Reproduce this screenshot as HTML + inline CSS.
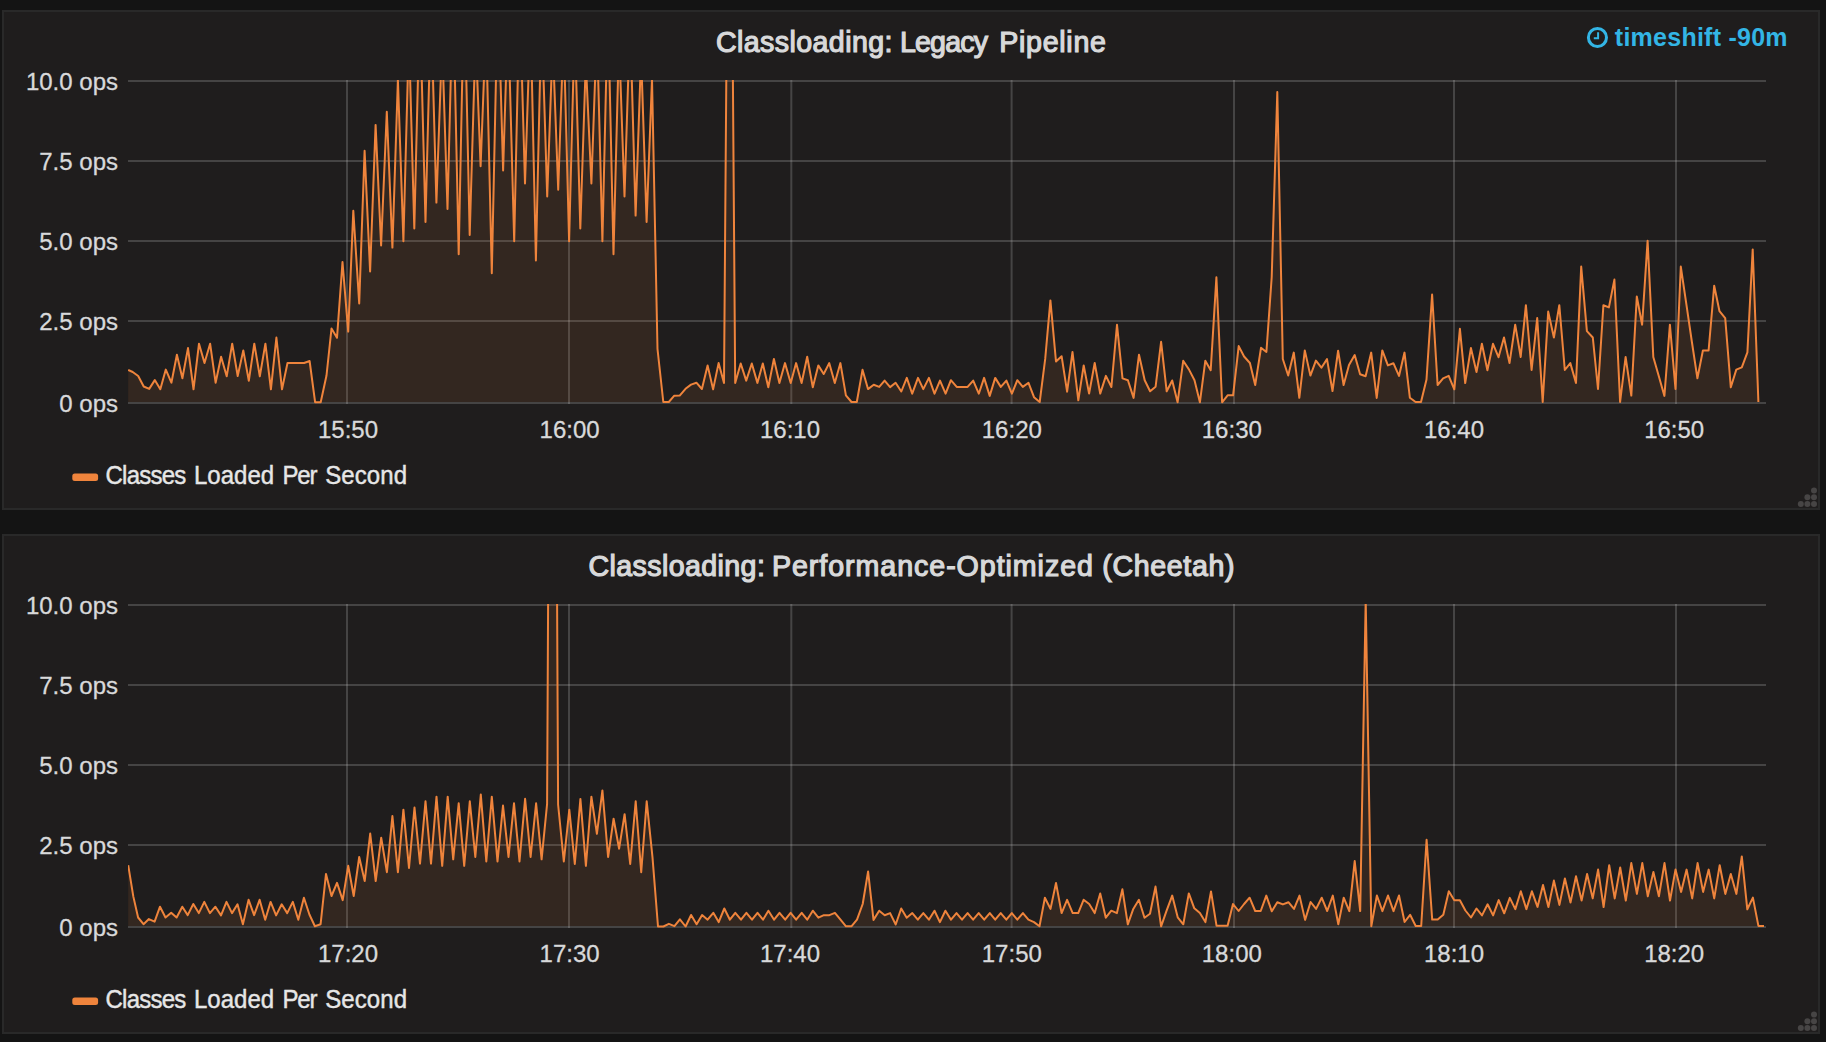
<!DOCTYPE html>
<html lang="en"><head><meta charset="utf-8"><title>Classloading dashboard</title>
<style>
html,body{margin:0;padding:0;background:#141414;}
body{width:1826px;height:1042px;overflow:hidden;position:relative;font-family:"Liberation Sans",sans-serif;color:#d8d9da;}
.panel{position:absolute;left:2px;width:1818px;height:500px;box-sizing:border-box;border:2px solid #292929;background:#1f1d1d;}
.plot{position:absolute;left:0;top:0;}
.title{position:absolute;font-size:28.6px;line-height:56px;height:56px;font-weight:normal;white-space:nowrap;-webkit-text-stroke:1.2px #d8d9da;}
.yl{-webkit-text-stroke:0.3px #d8d9da;position:absolute;left:0;width:118px;text-align:right;font-size:24px;line-height:28px;height:28px;white-space:nowrap;}
.xl{-webkit-text-stroke:0.3px #d8d9da;position:absolute;width:80px;text-align:center;font-size:24px;line-height:28px;height:28px;white-space:nowrap;}
.lg{transform:scaleY(1.055);transform-origin:0 21.2px;color:#e6e6e6;-webkit-text-stroke:0.4px #e6e6e6;position:absolute;font-size:24px;line-height:28px;height:28px;white-space:nowrap;}
.ts{position:absolute;right:38.2px;top:22px;font-size:25px;letter-spacing:0.25px;line-height:30px;font-weight:bold;color:#33b5e5;white-space:nowrap;}
</style></head>
<body>
<div class="panel" style="top:10px"></div>
<div class="title" style="top:13.5px;left:716px;letter-spacing:0.4px">Classloading:</div>
<div class="title" style="top:13.5px;left:899.9px;letter-spacing:-0.8px">Legacy</div>
<div class="title" style="top:13.5px;left:999.2px;letter-spacing:0.72px">Pipeline</div>
<div class="yl" style="top:67.7px">10.0 ops</div>
<div class="yl" style="top:147.7px">7.5 ops</div>
<div class="yl" style="top:227.7px">5.0 ops</div>
<div class="yl" style="top:307.7px">2.5 ops</div>
<div class="yl" style="top:389.7px">0 ops</div>
<div class="xl" style="left:308.0px;top:416px">15:50</div>
<div class="xl" style="left:529.6px;top:416px">16:00</div>
<div class="xl" style="left:750.0px;top:416px">16:10</div>
<div class="xl" style="left:971.8px;top:416px">16:20</div>
<div class="xl" style="left:1191.8px;top:416px">16:30</div>
<div class="xl" style="left:1414.0px;top:416px">16:40</div>
<div class="xl" style="left:1634.2px;top:416px">16:50</div>
<div class="lg" style="top:462.3px;left:105.5px;letter-spacing:-0.76px">Classes</div>
<div class="lg" style="top:462.3px;left:194.0px;letter-spacing:0.02px">Loaded</div>
<div class="lg" style="top:462.3px;left:282.5px;letter-spacing:-1.16px">Per</div>
<div class="lg" style="top:462.3px;left:325.2px;letter-spacing:0.09px">Second</div>
<div class="ts">timeshift -90m</div>
<div class="panel" style="top:534px"></div>
<div class="title" style="top:537.5px;left:588.4px;letter-spacing:0.4px">Classloading:</div>
<div class="title" style="top:537.5px;left:772px;letter-spacing:0.95px">Performance-Optimized</div>
<div class="title" style="top:537.5px;left:1102.3px;letter-spacing:0.63px">(Cheetah)</div>
<div class="yl" style="top:591.7px">10.0 ops</div>
<div class="yl" style="top:671.7px">7.5 ops</div>
<div class="yl" style="top:751.7px">5.0 ops</div>
<div class="yl" style="top:831.7px">2.5 ops</div>
<div class="yl" style="top:913.7px">0 ops</div>
<div class="xl" style="left:308.0px;top:940px">17:20</div>
<div class="xl" style="left:529.6px;top:940px">17:30</div>
<div class="xl" style="left:750.0px;top:940px">17:40</div>
<div class="xl" style="left:971.8px;top:940px">17:50</div>
<div class="xl" style="left:1191.8px;top:940px">18:00</div>
<div class="xl" style="left:1414.0px;top:940px">18:10</div>
<div class="xl" style="left:1634.2px;top:940px">18:20</div>
<div class="lg" style="top:986.3px;left:105.5px;letter-spacing:-0.76px">Classes</div>
<div class="lg" style="top:986.3px;left:194.0px;letter-spacing:0.02px">Loaded</div>
<div class="lg" style="top:986.3px;left:282.5px;letter-spacing:-1.16px">Per</div>
<div class="lg" style="top:986.3px;left:325.2px;letter-spacing:0.09px">Second</div>

<svg class="plot" width="1826" height="1042" viewBox="0 0 1826 1042"><defs><clipPath id="c1"><rect x="128" y="80" width="1638" height="324"/></clipPath><clipPath id="c2"><rect x="128" y="604" width="1638" height="324"/></clipPath></defs><g fill="#c8c8c8" fill-opacity="0.23"><rect x="128" y="80" width="1638" height="2"/><rect x="128" y="160" width="1638" height="2"/><rect x="128" y="240" width="1638" height="2"/><rect x="128" y="320" width="1638" height="2"/><rect x="128" y="402" width="1638" height="2"/><rect x="346" y="80" width="2" height="324"/><rect x="568" y="80" width="2" height="324"/><rect x="790.3" y="80" width="2" height="324"/><rect x="1010.6" y="80" width="2" height="324"/><rect x="1233" y="80" width="2" height="324"/><rect x="1453" y="80" width="2" height="324"/><rect x="1675" y="80" width="2" height="324"/></g><g clip-path="url(#c1)"><path d="M128.2,369.9 L132.7,372.0 L138.2,376.0 L143.7,386.5 L149.2,388.9 L154.8,380.1 L160.3,389.2 L165.8,369.6 L171.4,382.7 L176.9,354.8 L182.4,378.2 L188.0,348.1 L193.5,389.3 L199.0,343.7 L204.5,363.0 L210.1,343.7 L215.6,382.7 L221.1,356.7 L226.7,376.3 L232.2,343.7 L237.7,376.0 L243.3,350.4 L248.8,380.8 L254.3,343.7 L259.8,376.3 L265.4,343.7 L270.9,389.3 L276.4,337.5 L282.0,389.3 L287.5,363.0 L293.0,363.0 L298.6,363.0 L304.1,363.0 L309.6,361.0 L315.1,402.2 L320.7,402.2 L326.5,375.5 L331.5,328.5 L337.0,337.8 L342.5,262.0 L348.2,331.6 L353.3,210.8 L359.2,303.4 L364.6,150.7 L370.1,271.5 L375.6,124.9 L381.1,245.5 L386.8,111.8 L392.4,247.6 L397.9,79.5 L403.4,241.3 L408.9,35.0 L414.3,228.4 L419.8,3.0 L425.5,222.0 L431.0,6.0 L436.4,202.6 L442.1,41.0 L447.5,209.0 L453.0,-11.0 L458.7,254.2 L464.2,-19.0 L469.7,234.9 L475.6,36.0 L480.6,166.2 L486.0,25.0 L491.8,273.2 L497.9,-12.0 L503.1,170.5 L508.0,14.0 L514.2,241.3 L519.6,-4.8 L525.0,183.5 L530.5,15.5 L535.9,260.6 L541.5,12.6 L547.2,196.4 L552.7,42.3 L558.2,189.7 L563.6,31.0 L569.1,241.3 L574.7,24.0 L580.3,228.4 L585.8,62.0 L591.4,183.5 L596.9,28.2 L602.4,241.3 L607.9,3.8 L613.5,254.2 L619.0,39.3 L624.5,196.4 L630.1,18.5 L635.6,215.6 L641.1,54.3 L646.6,222.0 L652.0,79.0 L657.5,349.0 L663.3,402.0 L668.8,402.0 L674.3,395.7 L679.7,395.6 L685.5,388.8 L691.0,384.6 L696.4,382.7 L701.9,389.0 L707.6,365.4 L713.1,389.4 L718.6,363.1 L724.0,383.0 L729.6,-356.0 L735.2,383.0 L740.7,363.5 L746.2,380.6 L751.8,363.5 L757.4,382.9 L762.8,363.5 L768.3,387.3 L773.9,358.9 L779.4,383.0 L785.0,363.1 L790.7,383.0 L796.1,363.1 L801.6,383.0 L807.2,356.8 L812.8,387.3 L818.3,365.4 L823.7,374.0 L829.2,363.1 L834.8,383.0 L840.4,363.1 L845.9,395.3 L851.5,402.0 L856.8,402.0 L862.5,369.8 L868.0,389.1 L873.7,384.8 L879.2,386.9 L884.6,380.6 L890.1,387.1 L895.6,382.8 L901.3,391.5 L906.8,377.9 L912.2,393.7 L918.0,377.9 L923.3,389.1 L928.9,377.9 L934.5,393.7 L940.0,380.6 L945.6,393.7 L950.9,380.2 L956.7,386.9 L962.1,387.1 L967.6,386.9 L973.2,380.6 L978.8,393.7 L984.1,377.9 L989.7,395.9 L995.2,377.9 L1000.8,386.9 L1006.4,380.6 L1011.9,393.7 L1017.3,380.2 L1022.8,386.9 L1028.5,382.8 L1034.0,397.2 L1039.7,402.0 L1045.2,358.9 L1050.4,300.4 L1056.0,361.5 L1061.6,356.2 L1067.1,391.7 L1072.5,352.0 L1078.3,400.3 L1083.7,365.4 L1089.1,393.6 L1094.7,363.0 L1100.2,393.6 L1105.9,375.9 L1111.4,387.0 L1117.0,324.8 L1122.5,378.4 L1127.9,380.2 L1133.6,397.9 L1139.0,354.7 L1144.7,380.2 L1150.1,391.3 L1155.6,386.7 L1161.1,341.8 L1166.7,391.3 L1172.2,380.5 L1177.6,402.3 L1183.2,360.8 L1188.9,369.4 L1194.5,380.2 L1199.9,402.3 L1205.3,360.8 L1210.7,370.2 L1216.4,277.3 L1222.1,402.3 L1227.6,395.3 L1233.1,395.3 L1238.7,346.1 L1244.1,356.5 L1249.9,363.0 L1255.2,385.0 L1261.0,347.8 L1266.4,352.0 L1271.7,277.2 L1277.3,92.1 L1282.8,359.0 L1288.2,375.5 L1293.8,352.6 L1299.3,397.8 L1304.8,350.4 L1310.4,375.6 L1315.9,360.6 L1321.4,367.7 L1327.0,359.1 L1332.5,391.0 L1338.1,350.7 L1343.6,385.0 L1349.0,365.1 L1354.7,355.0 L1360.1,374.2 L1365.6,376.2 L1371.2,352.6 L1376.7,397.9 L1382.3,350.4 L1387.9,365.4 L1393.4,363.2 L1399.0,375.9 L1404.5,352.6 L1409.9,397.8 L1415.6,402.0 L1421.0,402.0 L1426.5,379.5 L1432.1,294.6 L1437.6,385.0 L1443.1,378.4 L1448.7,375.9 L1454.3,389.3 L1459.9,328.8 L1465.2,383.1 L1470.9,348.1 L1476.5,372.0 L1481.9,343.8 L1487.4,370.2 L1493.0,343.8 L1498.5,357.2 L1504.0,337.5 L1509.5,363.1 L1515.2,324.7 L1520.7,357.0 L1525.9,305.2 L1531.6,370.0 L1537.2,318.1 L1542.7,402.0 L1548.2,311.6 L1553.9,337.5 L1559.3,305.2 L1564.8,370.0 L1570.3,363.1 L1576.0,383.0 L1581.2,266.6 L1586.9,331.1 L1592.8,337.5 L1598.0,389.0 L1603.4,305.2 L1608.9,307.4 L1614.4,279.6 L1620.1,402.0 L1625.6,357.0 L1631.3,395.6 L1636.8,296.5 L1642.1,324.7 L1647.6,240.7 L1653.3,357.0 L1658.9,376.6 L1664.4,395.9 L1669.9,324.7 L1675.5,389.0 L1680.8,266.6 L1686.5,305.2 L1691.9,342.0 L1697.4,378.3 L1702.9,350.5 L1708.6,350.5 L1714.2,285.7 L1719.5,311.2 L1725.2,318.1 L1730.8,387.3 L1736.3,369.6 L1741.8,367.4 L1747.4,352.4 L1752.7,249.4 L1758.4,402.0 L1758.4,402 L128.2,402 Z" fill="#ef843c" fill-opacity="0.1" stroke="none"/><path d="M128.2,369.9 L132.7,372.0 L138.2,376.0 L143.7,386.5 L149.2,388.9 L154.8,380.1 L160.3,389.2 L165.8,369.6 L171.4,382.7 L176.9,354.8 L182.4,378.2 L188.0,348.1 L193.5,389.3 L199.0,343.7 L204.5,363.0 L210.1,343.7 L215.6,382.7 L221.1,356.7 L226.7,376.3 L232.2,343.7 L237.7,376.0 L243.3,350.4 L248.8,380.8 L254.3,343.7 L259.8,376.3 L265.4,343.7 L270.9,389.3 L276.4,337.5 L282.0,389.3 L287.5,363.0 L293.0,363.0 L298.6,363.0 L304.1,363.0 L309.6,361.0 L315.1,402.2 L320.7,402.2 L326.5,375.5 L331.5,328.5 L337.0,337.8 L342.5,262.0 L348.2,331.6 L353.3,210.8 L359.2,303.4 L364.6,150.7 L370.1,271.5 L375.6,124.9 L381.1,245.5 L386.8,111.8 L392.4,247.6 L397.9,79.5 L403.4,241.3 L408.9,35.0 L414.3,228.4 L419.8,3.0 L425.5,222.0 L431.0,6.0 L436.4,202.6 L442.1,41.0 L447.5,209.0 L453.0,-11.0 L458.7,254.2 L464.2,-19.0 L469.7,234.9 L475.6,36.0 L480.6,166.2 L486.0,25.0 L491.8,273.2 L497.9,-12.0 L503.1,170.5 L508.0,14.0 L514.2,241.3 L519.6,-4.8 L525.0,183.5 L530.5,15.5 L535.9,260.6 L541.5,12.6 L547.2,196.4 L552.7,42.3 L558.2,189.7 L563.6,31.0 L569.1,241.3 L574.7,24.0 L580.3,228.4 L585.8,62.0 L591.4,183.5 L596.9,28.2 L602.4,241.3 L607.9,3.8 L613.5,254.2 L619.0,39.3 L624.5,196.4 L630.1,18.5 L635.6,215.6 L641.1,54.3 L646.6,222.0 L652.0,79.0 L657.5,349.0 L663.3,402.0 L668.8,402.0 L674.3,395.7 L679.7,395.6 L685.5,388.8 L691.0,384.6 L696.4,382.7 L701.9,389.0 L707.6,365.4 L713.1,389.4 L718.6,363.1 L724.0,383.0 L729.6,-356.0 L735.2,383.0 L740.7,363.5 L746.2,380.6 L751.8,363.5 L757.4,382.9 L762.8,363.5 L768.3,387.3 L773.9,358.9 L779.4,383.0 L785.0,363.1 L790.7,383.0 L796.1,363.1 L801.6,383.0 L807.2,356.8 L812.8,387.3 L818.3,365.4 L823.7,374.0 L829.2,363.1 L834.8,383.0 L840.4,363.1 L845.9,395.3 L851.5,402.0 L856.8,402.0 L862.5,369.8 L868.0,389.1 L873.7,384.8 L879.2,386.9 L884.6,380.6 L890.1,387.1 L895.6,382.8 L901.3,391.5 L906.8,377.9 L912.2,393.7 L918.0,377.9 L923.3,389.1 L928.9,377.9 L934.5,393.7 L940.0,380.6 L945.6,393.7 L950.9,380.2 L956.7,386.9 L962.1,387.1 L967.6,386.9 L973.2,380.6 L978.8,393.7 L984.1,377.9 L989.7,395.9 L995.2,377.9 L1000.8,386.9 L1006.4,380.6 L1011.9,393.7 L1017.3,380.2 L1022.8,386.9 L1028.5,382.8 L1034.0,397.2 L1039.7,402.0 L1045.2,358.9 L1050.4,300.4 L1056.0,361.5 L1061.6,356.2 L1067.1,391.7 L1072.5,352.0 L1078.3,400.3 L1083.7,365.4 L1089.1,393.6 L1094.7,363.0 L1100.2,393.6 L1105.9,375.9 L1111.4,387.0 L1117.0,324.8 L1122.5,378.4 L1127.9,380.2 L1133.6,397.9 L1139.0,354.7 L1144.7,380.2 L1150.1,391.3 L1155.6,386.7 L1161.1,341.8 L1166.7,391.3 L1172.2,380.5 L1177.6,402.3 L1183.2,360.8 L1188.9,369.4 L1194.5,380.2 L1199.9,402.3 L1205.3,360.8 L1210.7,370.2 L1216.4,277.3 L1222.1,402.3 L1227.6,395.3 L1233.1,395.3 L1238.7,346.1 L1244.1,356.5 L1249.9,363.0 L1255.2,385.0 L1261.0,347.8 L1266.4,352.0 L1271.7,277.2 L1277.3,92.1 L1282.8,359.0 L1288.2,375.5 L1293.8,352.6 L1299.3,397.8 L1304.8,350.4 L1310.4,375.6 L1315.9,360.6 L1321.4,367.7 L1327.0,359.1 L1332.5,391.0 L1338.1,350.7 L1343.6,385.0 L1349.0,365.1 L1354.7,355.0 L1360.1,374.2 L1365.6,376.2 L1371.2,352.6 L1376.7,397.9 L1382.3,350.4 L1387.9,365.4 L1393.4,363.2 L1399.0,375.9 L1404.5,352.6 L1409.9,397.8 L1415.6,402.0 L1421.0,402.0 L1426.5,379.5 L1432.1,294.6 L1437.6,385.0 L1443.1,378.4 L1448.7,375.9 L1454.3,389.3 L1459.9,328.8 L1465.2,383.1 L1470.9,348.1 L1476.5,372.0 L1481.9,343.8 L1487.4,370.2 L1493.0,343.8 L1498.5,357.2 L1504.0,337.5 L1509.5,363.1 L1515.2,324.7 L1520.7,357.0 L1525.9,305.2 L1531.6,370.0 L1537.2,318.1 L1542.7,402.0 L1548.2,311.6 L1553.9,337.5 L1559.3,305.2 L1564.8,370.0 L1570.3,363.1 L1576.0,383.0 L1581.2,266.6 L1586.9,331.1 L1592.8,337.5 L1598.0,389.0 L1603.4,305.2 L1608.9,307.4 L1614.4,279.6 L1620.1,402.0 L1625.6,357.0 L1631.3,395.6 L1636.8,296.5 L1642.1,324.7 L1647.6,240.7 L1653.3,357.0 L1658.9,376.6 L1664.4,395.9 L1669.9,324.7 L1675.5,389.0 L1680.8,266.6 L1686.5,305.2 L1691.9,342.0 L1697.4,378.3 L1702.9,350.5 L1708.6,350.5 L1714.2,285.7 L1719.5,311.2 L1725.2,318.1 L1730.8,387.3 L1736.3,369.6 L1741.8,367.4 L1747.4,352.4 L1752.7,249.4 L1758.4,402.0" fill="none" stroke="#ef843c" stroke-width="2" stroke-linejoin="round" stroke-linecap="butt"/></g><g fill="#474545"><circle cx="1814" cy="490.5" r="3"/><circle cx="1807.4" cy="497.2" r="3"/><circle cx="1814" cy="497.2" r="3"/><circle cx="1800.8" cy="503.9" r="3"/><circle cx="1807.4" cy="503.9" r="3"/><circle cx="1814" cy="503.9" r="3"/></g><g fill="#c8c8c8" fill-opacity="0.23"><rect x="128" y="604" width="1638" height="2"/><rect x="128" y="684" width="1638" height="2"/><rect x="128" y="764" width="1638" height="2"/><rect x="128" y="844" width="1638" height="2"/><rect x="128" y="926" width="1638" height="2"/><rect x="346" y="604" width="2" height="324"/><rect x="568" y="604" width="2" height="324"/><rect x="790.3" y="604" width="2" height="324"/><rect x="1010.6" y="604" width="2" height="324"/><rect x="1233" y="604" width="2" height="324"/><rect x="1453" y="604" width="2" height="324"/><rect x="1675" y="604" width="2" height="324"/></g><g clip-path="url(#c2)"><path d="M128.2,865.1 L133.3,896.4 L138.1,917.5 L143.5,924.2 L148.9,919.1 L154.6,921.7 L160.0,906.7 L165.5,917.5 L171.2,912.7 L176.6,917.5 L182.3,906.7 L187.7,915.1 L193.3,904.0 L198.8,913.1 L204.3,901.9 L209.9,913.1 L215.4,906.7 L221.0,915.4 L226.5,901.9 L232.0,913.1 L237.5,904.3 L242.9,924.2 L248.6,899.8 L254.1,915.1 L259.6,899.8 L265.2,919.7 L270.6,901.9 L276.1,915.4 L281.7,904.3 L287.2,913.1 L292.8,901.9 L298.3,919.7 L303.9,897.7 L309.4,914.5 L314.9,926.2 L320.6,924.2 L326.0,873.9 L331.5,896.0 L337.0,882.8 L342.7,900.1 L348.2,865.8 L353.7,896.0 L359.2,857.0 L364.7,881.1 L370.2,833.5 L375.7,881.1 L381.2,837.7 L386.9,872.2 L392.4,816.1 L397.9,872.2 L403.4,809.7 L409.0,868.0 L414.5,807.5 L420.0,863.6 L425.5,801.3 L431.0,863.6 L436.5,796.7 L442.2,865.8 L447.7,796.7 L453.2,859.3 L458.7,803.3 L464.2,865.8 L469.8,801.3 L475.3,857.0 L480.8,794.6 L486.3,861.5 L491.8,796.7 L497.5,861.5 L503.0,805.6 L508.5,857.0 L514.0,803.3 L519.5,861.5 L525.1,798.8 L530.6,857.0 L536.1,803.3 L541.6,859.3 L547.1,803.8 L552.6,-300.0 L558.1,804.5 L563.8,861.5 L569.3,809.7 L574.8,864.0 L580.4,798.9 L585.9,865.8 L591.4,796.7 L596.9,833.8 L602.4,790.4 L608.1,857.0 L613.6,818.7 L619.1,848.7 L624.6,814.2 L630.2,864.0 L635.7,801.3 L641.2,872.2 L646.7,801.3 L652.5,857.3 L658.0,926.5 L663.4,926.5 L668.9,923.8 L674.4,926.2 L679.9,919.3 L685.6,926.5 L691.1,915.0 L696.6,924.2 L702.1,915.0 L707.6,919.7 L713.3,912.8 L718.7,922.1 L724.3,908.5 L729.9,919.7 L735.3,912.8 L741.0,919.7 L746.4,912.8 L752.0,919.7 L757.5,912.8 L763.0,919.7 L768.4,910.7 L774.1,919.7 L779.5,912.8 L785.2,919.7 L790.6,912.8 L796.1,919.7 L801.7,912.8 L807.2,919.7 L812.8,910.7 L818.4,917.7 L823.9,915.2 L829.4,915.2 L834.9,912.8 L840.5,919.7 L846.0,926.3 L851.4,926.3 L857.0,919.7 L862.7,904.0 L868.1,871.5 L873.5,919.9 L879.2,910.7 L884.7,915.2 L890.1,913.1 L895.7,924.5 L901.2,908.5 L906.7,917.7 L912.3,913.1 L917.8,919.7 L923.3,913.1 L928.9,919.7 L934.5,910.7 L939.9,922.1 L945.4,910.7 L951.0,919.7 L956.5,913.1 L962.0,919.7 L967.6,913.1 L973.1,919.7 L978.7,913.1 L984.2,919.7 L989.8,913.1 L995.2,919.7 L1000.7,913.1 L1006.3,919.7 L1011.8,913.1 L1017.3,919.7 L1022.9,913.1 L1028.4,919.7 L1034.0,922.1 L1039.5,926.3 L1044.9,897.7 L1050.5,908.9 L1056.0,883.0 L1061.6,913.1 L1067.1,899.8 L1072.7,913.1 L1078.2,913.1 L1083.6,899.8 L1089.2,904.0 L1094.7,913.1 L1100.2,893.4 L1105.8,917.7 L1111.3,910.7 L1116.9,913.1 L1122.4,889.3 L1127.8,924.3 L1133.3,908.9 L1138.9,899.8 L1144.5,917.7 L1150.0,913.7 L1155.5,886.6 L1161.1,926.3 L1166.6,910.7 L1172.2,895.6 L1177.7,917.3 L1183.3,924.3 L1188.8,893.4 L1194.3,908.3 L1199.9,913.1 L1205.4,922.1 L1211.0,891.4 L1216.5,925.7 L1222.0,925.7 L1227.6,925.7 L1233.0,904.0 L1238.6,911.0 L1244.1,904.0 L1249.6,897.7 L1255.2,911.0 L1260.7,911.0 L1266.3,895.6 L1271.8,911.3 L1277.3,902.2 L1282.9,904.4 L1288.4,902.2 L1294.0,908.9 L1299.5,895.6 L1305.1,919.9 L1310.6,902.0 L1316.1,908.9 L1321.7,897.7 L1327.2,911.0 L1332.8,895.6 L1338.3,924.3 L1343.7,897.7 L1349.3,911.1 L1354.7,861.1 L1360.2,911.1 L1365.7,600.0 L1371.3,926.2 L1376.9,895.5 L1382.4,911.1 L1388.0,895.5 L1393.5,911.1 L1399.0,895.5 L1404.6,922.0 L1410.1,914.8 L1415.7,926.0 L1421.2,926.0 L1426.6,839.7 L1432.2,919.6 L1437.7,919.6 L1443.3,914.8 L1448.8,891.3 L1454.3,900.3 L1459.9,900.3 L1465.4,910.5 L1471.0,917.5 L1476.5,908.5 L1482.0,915.4 L1487.6,904.3 L1493.1,915.4 L1498.7,900.1 L1504.2,913.3 L1509.8,897.9 L1515.3,909.1 L1520.8,891.3 L1526.4,909.1 L1531.9,891.3 L1537.5,906.9 L1543.0,885.0 L1548.4,907.0 L1553.9,880.6 L1559.4,904.9 L1564.9,878.5 L1570.5,902.6 L1576.0,876.3 L1581.6,900.5 L1587.1,874.0 L1592.7,898.4 L1598.1,869.6 L1603.6,907.1 L1609.2,865.2 L1614.7,898.4 L1620.2,867.5 L1625.8,900.5 L1631.3,863.1 L1636.9,893.9 L1642.3,863.1 L1647.8,896.3 L1653.4,871.9 L1658.9,896.3 L1664.5,863.1 L1670.0,900.5 L1675.5,869.6 L1681.1,891.9 L1686.6,869.6 L1692.2,898.4 L1697.6,863.1 L1703.1,891.9 L1708.7,869.6 L1714.2,898.4 L1719.7,865.2 L1725.3,893.9 L1730.8,874.0 L1736.4,893.9 L1741.8,856.4 L1747.3,909.3 L1752.9,897.6 L1758.4,925.9 L1764.0,925.9 L1764.0,926 L128.2,926 Z" fill="#ef843c" fill-opacity="0.1" stroke="none"/><path d="M128.2,865.1 L133.3,896.4 L138.1,917.5 L143.5,924.2 L148.9,919.1 L154.6,921.7 L160.0,906.7 L165.5,917.5 L171.2,912.7 L176.6,917.5 L182.3,906.7 L187.7,915.1 L193.3,904.0 L198.8,913.1 L204.3,901.9 L209.9,913.1 L215.4,906.7 L221.0,915.4 L226.5,901.9 L232.0,913.1 L237.5,904.3 L242.9,924.2 L248.6,899.8 L254.1,915.1 L259.6,899.8 L265.2,919.7 L270.6,901.9 L276.1,915.4 L281.7,904.3 L287.2,913.1 L292.8,901.9 L298.3,919.7 L303.9,897.7 L309.4,914.5 L314.9,926.2 L320.6,924.2 L326.0,873.9 L331.5,896.0 L337.0,882.8 L342.7,900.1 L348.2,865.8 L353.7,896.0 L359.2,857.0 L364.7,881.1 L370.2,833.5 L375.7,881.1 L381.2,837.7 L386.9,872.2 L392.4,816.1 L397.9,872.2 L403.4,809.7 L409.0,868.0 L414.5,807.5 L420.0,863.6 L425.5,801.3 L431.0,863.6 L436.5,796.7 L442.2,865.8 L447.7,796.7 L453.2,859.3 L458.7,803.3 L464.2,865.8 L469.8,801.3 L475.3,857.0 L480.8,794.6 L486.3,861.5 L491.8,796.7 L497.5,861.5 L503.0,805.6 L508.5,857.0 L514.0,803.3 L519.5,861.5 L525.1,798.8 L530.6,857.0 L536.1,803.3 L541.6,859.3 L547.1,803.8 L552.6,-300.0 L558.1,804.5 L563.8,861.5 L569.3,809.7 L574.8,864.0 L580.4,798.9 L585.9,865.8 L591.4,796.7 L596.9,833.8 L602.4,790.4 L608.1,857.0 L613.6,818.7 L619.1,848.7 L624.6,814.2 L630.2,864.0 L635.7,801.3 L641.2,872.2 L646.7,801.3 L652.5,857.3 L658.0,926.5 L663.4,926.5 L668.9,923.8 L674.4,926.2 L679.9,919.3 L685.6,926.5 L691.1,915.0 L696.6,924.2 L702.1,915.0 L707.6,919.7 L713.3,912.8 L718.7,922.1 L724.3,908.5 L729.9,919.7 L735.3,912.8 L741.0,919.7 L746.4,912.8 L752.0,919.7 L757.5,912.8 L763.0,919.7 L768.4,910.7 L774.1,919.7 L779.5,912.8 L785.2,919.7 L790.6,912.8 L796.1,919.7 L801.7,912.8 L807.2,919.7 L812.8,910.7 L818.4,917.7 L823.9,915.2 L829.4,915.2 L834.9,912.8 L840.5,919.7 L846.0,926.3 L851.4,926.3 L857.0,919.7 L862.7,904.0 L868.1,871.5 L873.5,919.9 L879.2,910.7 L884.7,915.2 L890.1,913.1 L895.7,924.5 L901.2,908.5 L906.7,917.7 L912.3,913.1 L917.8,919.7 L923.3,913.1 L928.9,919.7 L934.5,910.7 L939.9,922.1 L945.4,910.7 L951.0,919.7 L956.5,913.1 L962.0,919.7 L967.6,913.1 L973.1,919.7 L978.7,913.1 L984.2,919.7 L989.8,913.1 L995.2,919.7 L1000.7,913.1 L1006.3,919.7 L1011.8,913.1 L1017.3,919.7 L1022.9,913.1 L1028.4,919.7 L1034.0,922.1 L1039.5,926.3 L1044.9,897.7 L1050.5,908.9 L1056.0,883.0 L1061.6,913.1 L1067.1,899.8 L1072.7,913.1 L1078.2,913.1 L1083.6,899.8 L1089.2,904.0 L1094.7,913.1 L1100.2,893.4 L1105.8,917.7 L1111.3,910.7 L1116.9,913.1 L1122.4,889.3 L1127.8,924.3 L1133.3,908.9 L1138.9,899.8 L1144.5,917.7 L1150.0,913.7 L1155.5,886.6 L1161.1,926.3 L1166.6,910.7 L1172.2,895.6 L1177.7,917.3 L1183.3,924.3 L1188.8,893.4 L1194.3,908.3 L1199.9,913.1 L1205.4,922.1 L1211.0,891.4 L1216.5,925.7 L1222.0,925.7 L1227.6,925.7 L1233.0,904.0 L1238.6,911.0 L1244.1,904.0 L1249.6,897.7 L1255.2,911.0 L1260.7,911.0 L1266.3,895.6 L1271.8,911.3 L1277.3,902.2 L1282.9,904.4 L1288.4,902.2 L1294.0,908.9 L1299.5,895.6 L1305.1,919.9 L1310.6,902.0 L1316.1,908.9 L1321.7,897.7 L1327.2,911.0 L1332.8,895.6 L1338.3,924.3 L1343.7,897.7 L1349.3,911.1 L1354.7,861.1 L1360.2,911.1 L1365.7,600.0 L1371.3,926.2 L1376.9,895.5 L1382.4,911.1 L1388.0,895.5 L1393.5,911.1 L1399.0,895.5 L1404.6,922.0 L1410.1,914.8 L1415.7,926.0 L1421.2,926.0 L1426.6,839.7 L1432.2,919.6 L1437.7,919.6 L1443.3,914.8 L1448.8,891.3 L1454.3,900.3 L1459.9,900.3 L1465.4,910.5 L1471.0,917.5 L1476.5,908.5 L1482.0,915.4 L1487.6,904.3 L1493.1,915.4 L1498.7,900.1 L1504.2,913.3 L1509.8,897.9 L1515.3,909.1 L1520.8,891.3 L1526.4,909.1 L1531.9,891.3 L1537.5,906.9 L1543.0,885.0 L1548.4,907.0 L1553.9,880.6 L1559.4,904.9 L1564.9,878.5 L1570.5,902.6 L1576.0,876.3 L1581.6,900.5 L1587.1,874.0 L1592.7,898.4 L1598.1,869.6 L1603.6,907.1 L1609.2,865.2 L1614.7,898.4 L1620.2,867.5 L1625.8,900.5 L1631.3,863.1 L1636.9,893.9 L1642.3,863.1 L1647.8,896.3 L1653.4,871.9 L1658.9,896.3 L1664.5,863.1 L1670.0,900.5 L1675.5,869.6 L1681.1,891.9 L1686.6,869.6 L1692.2,898.4 L1697.6,863.1 L1703.1,891.9 L1708.7,869.6 L1714.2,898.4 L1719.7,865.2 L1725.3,893.9 L1730.8,874.0 L1736.4,893.9 L1741.8,856.4 L1747.3,909.3 L1752.9,897.6 L1758.4,925.9 L1764.0,925.9" fill="none" stroke="#ef843c" stroke-width="2" stroke-linejoin="round" stroke-linecap="butt"/></g><g fill="#474545"><circle cx="1814" cy="1014.5" r="3"/><circle cx="1807.4" cy="1021.2" r="3"/><circle cx="1814" cy="1021.2" r="3"/><circle cx="1800.8" cy="1027.9" r="3"/><circle cx="1807.4" cy="1027.9" r="3"/><circle cx="1814" cy="1027.9" r="3"/></g><rect x="72.3" y="473.6" width="25.8" height="7.5" rx="2.5" fill="#ef843c"/><rect x="72.3" y="997.6" width="25.8" height="7.5" rx="2.5" fill="#ef843c"/><g stroke="#33b5e5" fill="none"><circle cx="1597.45" cy="37.5" r="9.05" stroke-width="3.0"/><path d="M1598.1,32.3 V38.25 H1593.8" stroke-width="2"/></g></svg>
</body></html>
